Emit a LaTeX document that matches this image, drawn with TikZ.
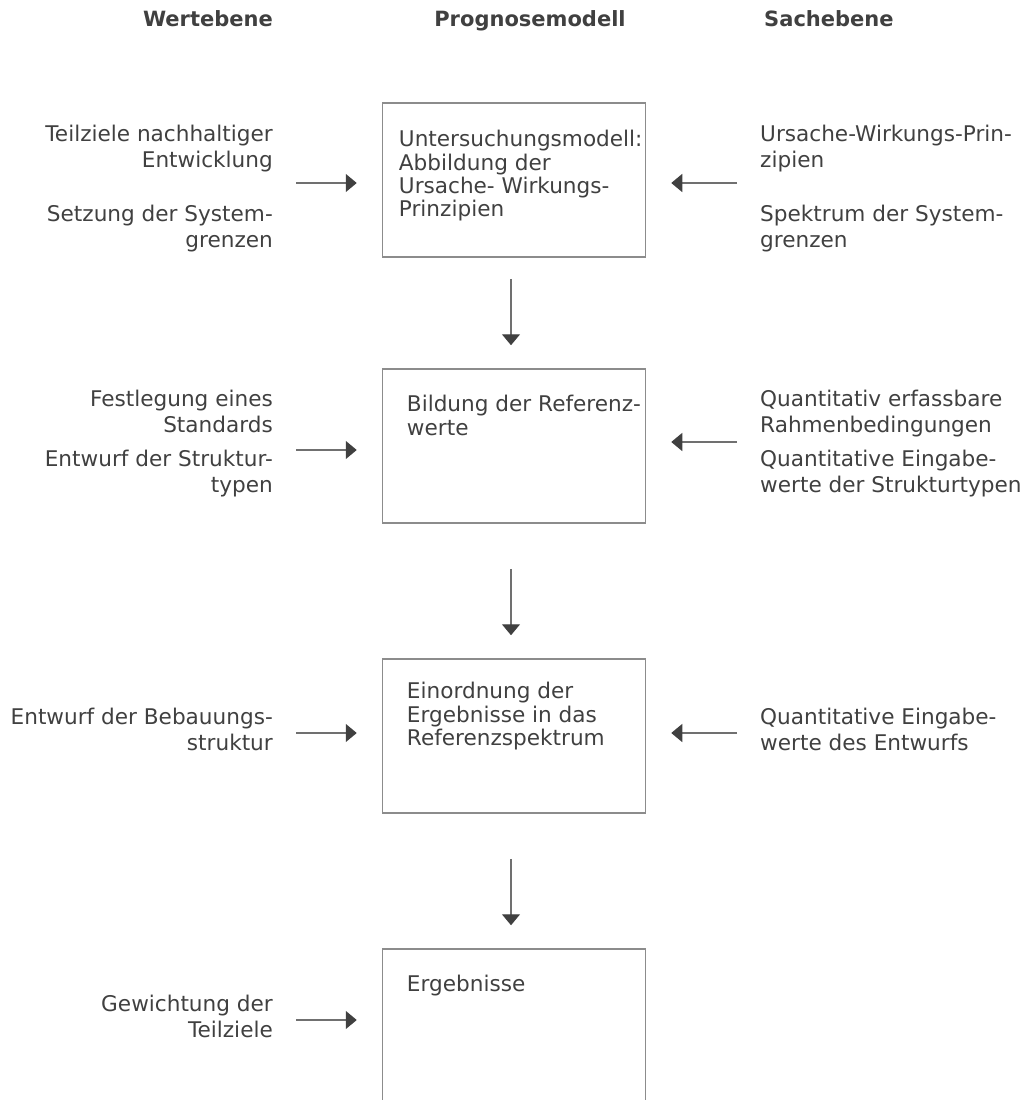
\documentclass[tikz,border=0pt]{standalone}
\usepackage{fontspec}
\setmainfont{DejaVu Sans}
\usetikzlibrary{positioning, arrows.meta}
\definecolor{txtgray}{HTML}{404040}
\definecolor{boxgray}{HTML}{8C8C8C}
\definecolor{linegray}{HTML}{707070}

\begin{document}
\begin{tikzpicture}[x=1pt, y=-1pt, >={Triangle[width=18pt,length=11pt,color=txtgray]},
    every node/.style={text=txtgray, inner sep=0pt},
    head/.style={font=\fontsize{21}{25}\selectfont\bfseries},
    stepbox/.style={draw=boxgray, line width=1.5pt, minimum width=263pt, minimum height=154pt},
    boxtext/.style={align=left, font=\fontsize{21.6}{23.3}\selectfont},
    wert/.style={align=right, anchor=north east, font=\fontsize{21.6}{25.5}\selectfont},
    sach/.style={align=left, anchor=north west, font=\fontsize{21.6}{25.5}\selectfont},
    flow/.style={->, draw=linegray, line width=1.2pt, shorten >=25pt}]

  \useasboundingbox (0,0) rectangle (1030,1100);
  \clip (0,0) rectangle (1030,1100);

  % column heads
  \node[head, anchor=base east] (wert) at (273,26) {Wertebene};
  \node[head, anchor=base] (prog) at (530,26) {Prognosemodell};
  \node[head, anchor=base west] (sach) at (764,26) {Sachebene};

  % middle column
  \node[stepbox] (unters) at (514,180) {};
  \node[stepbox] (ref) at (514,446) {};
  \node[stepbox] (einord) at (514,736) {};
  \node[stepbox] (erg) at (514,1026) {};

  \node[boxtext, below right=28pt and 17pt of unters.north west] (untersT)
    {Untersuchungsmodell:\\Abbildung der\\Ursache- Wirkungs-\\Prinzipien};
  \node[boxtext, below right=27pt and 25pt of ref.north west] (refT)
    {Bildung der Referenz-\\werte};
  \node[boxtext, below right=24pt and 25pt of einord.north west] (einordT)
    {Einordnung der\\Ergebnisse in das\\Referenzspektrum};
  \node[boxtext, below right=27pt and 25pt of erg.north west] (ergT)
    {Ergebnisse};

  \draw[flow, shorten <=21pt, shorten >=23pt] ([xshift=-3pt]unters.south) -- ([xshift=-3pt]ref.north);
  \draw[flow, shorten <=45pt, shorten >=23pt] ([xshift=-3pt]ref.south) -- ([xshift=-3pt]einord.north);
  \draw[flow, shorten <=45pt, shorten >=23pt] ([xshift=-3pt]einord.south) -- ([xshift=-3pt]erg.north);

  % Wertebene
  \node[wert] (w1a) at (273,125) {Teilziele nachhaltiger\\Entwicklung};
  \node[wert] (w1b) at (273,205) {Setzung der System-\\grenzen};
  \node[wert] (w2a) at (273,390) {Festlegung eines\\Standards};
  \node[wert] (w2b) at (273,450) {Entwurf der Struktur-\\typen};
  \node[wert] (w3) at (273,708) {Entwurf der Bebauungs-\\struktur};
  \node[wert] (w4) at (273,995) {Gewichtung der\\Teilziele};

  % Sachebene
  \node[sach] (s1a) at (760,125) {Ursache-Wirkungs-Prin-\\zipien};
  \node[sach] (s1b) at (760,205) {Spektrum der System-\\grenzen};
  \node[sach] (s2a) at (760,390) {Quantitativ erfassbare\\Rahmenbedingungen};
  \node[sach] (s2b) at (760,450) {Quantitative Eingabe-\\werte der Strukturtypen};
  \node[sach] (s3) at (760,708) {Quantitative Eingabe-\\werte des Entwurfs};

  % inputs into the model
  \coordinate (in1) at (296,183);
  \coordinate (in2) at (296,450);
  \coordinate (in3) at (296,733);
  \coordinate (in4) at (296,1020);
  \coordinate (out1) at (737,183);
  \coordinate (out2) at (737,442);
  \coordinate (out3) at (737,733);

  \draw[flow] (in1) -- (in1 -| unters.west);
  \draw[flow] (in2) -- (in2 -| ref.west);
  \draw[flow] (in3) -- (in3 -| einord.west);
  \draw[flow] (in4) -- (in4 -| erg.west);
  \draw[flow] (out1) -- (out1 -| unters.east);
  \draw[flow] (out2) -- (out2 -| ref.east);
  \draw[flow] (out3) -- (out3 -| einord.east);
\end{tikzpicture}
\end{document}
